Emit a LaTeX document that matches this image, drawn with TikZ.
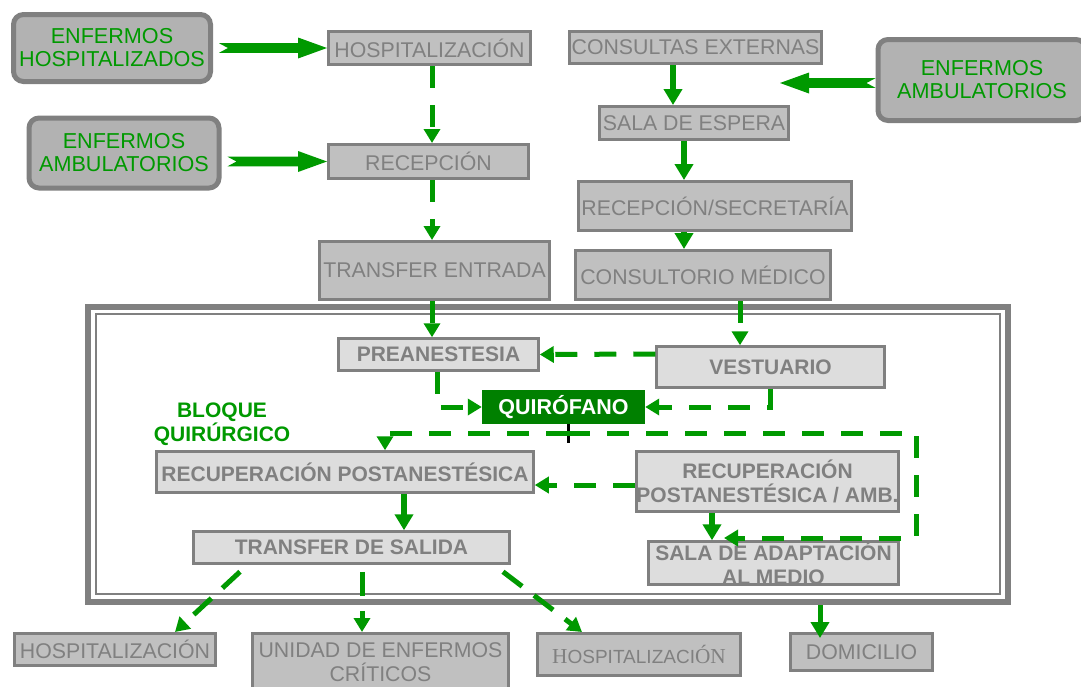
\documentclass[tikz,border=0pt]{standalone}
\usepackage{fontspec}
\setmainfont{Liberation Sans}
\newfontfamily\serifface{Liberation Serif}
\usetikzlibrary{arrows.meta,calc}

\definecolor{flowgreen}{RGB}{0,153,0}
\definecolor{orgreen}{RGB}{0,128,0}
\definecolor{boxgray}{RGB}{192,192,192}
\definecolor{edgegray}{RGB}{128,128,128}
\definecolor{lightbox}{RGB}{221,221,221}
\definecolor{patientfill}{RGB}{178,178,178}

% broad arrow with a notched tail, horizontal, from #1 to #2
\newcommand{\fatarrow}[2]{%
  \fill[flowgreen] let \p1=#1, \p2=#2, \n1={(\x2>\x1) ? 1 : -1} in
    (\x1,\y1+4.8pt) -- (\x2-\n1*29pt,\y1+4.8pt) -- (\x2-\n1*29pt,\y1+10.5pt)
    -- (\x2,\y1) -- (\x2-\n1*29pt,\y1-10.5pt) -- (\x2-\n1*29pt,\y1-4.8pt)
    -- (\x1,\y1-4.8pt) -- (\x1+\n1*9pt,\y1) -- cycle;}

\tikzset{
  topbox/.style={draw=edgegray, line width=3pt, fill=boxgray, text=edgegray,
    inner sep=0pt, align=center, font=\fontsize{21.3}{24}\selectfont},
  innerbox/.style={draw=edgegray, line width=2.5pt, fill=lightbox, text=edgegray,
    inner sep=0pt, align=center, font=\bfseries\fontsize{21}{24}\selectfont},
  patient/.style={draw=edgegray, line width=5pt, fill=patientfill, rounded corners=10pt,
    text=flowgreen, align=center, inner sep=0pt, font=\fontsize{21.6}{23}\selectfont},
  theatre/.style={fill=orgreen, text=white, inner sep=0pt,
    font=\bfseries\fontsize{21.5}{24}\selectfont},
  flowdash/.style={draw=flowgreen, line width=5pt, dash pattern=on 22pt off 17pt,
    -{Triangle[length=14pt,width=16pt]}},
  flowsolid/.style={draw=flowgreen, line width=5.5pt, -{Triangle[length=16pt,width=18pt]}},
  framebar/.style={draw=edgegray, inner sep=0pt},
}

\begin{document}
\begin{tikzpicture}[x=1pt,y=-1pt]
\useasboundingbox (0,0) rectangle (1081,686);
\fill[white] (0,0) rectangle (1081,686);

% surgical block frame
\node[framebar, line width=6.5pt, minimum width=920, minimum height=295] (frame) at (548,454.5) {};
\node[framebar, line width=2pt, minimum width=904, minimum height=280] (frameIn) at (548,454) {};

% patient sources
\node[patient, minimum width=197, minimum height=67] (enfH) at (112,48) {ENFERMOS\\HOSPITALIZADOS};
\node[patient, minimum width=190, minimum height=70] (enfAL) at (124,153) {ENFERMOS\\AMBULATORIOS};
\node[patient, minimum width=208, minimum height=81] (enfAR) at (982,80) {ENFERMOS\\AMBULATORIOS};

% admission side
\node[topbox, minimum width=202, minimum height=33] (hospT) at (429.5,48) {HOSPITALIZACIÓN};
\node[topbox, minimum width=200, minimum height=34] (recep) at (428.5,161.5) {RECEPCIÓN};
\node[topbox, minimum width=230, minimum height=58] (transE) at (434.5,270.5) {TRANSFER ENTRADA};

% outpatient side
\node[topbox, minimum width=252, minimum height=32] (consExt) at (695.5,47.5) {CONSULTAS EXTERNAS};
\node[topbox, minimum width=189, minimum height=33] (salaEsp) at (694,123) {SALA DE ESPERA};
\node[topbox, minimum width=273, minimum height=49] (recSec) at (715,206) {RECEPCIÓN/SECRETARÍA};
\node[topbox, minimum width=255, minimum height=49] (consMed) at (703,275) {CONSULTORIO MÉDICO};

% inside the surgical block
\node[innerbox, minimum width=200, minimum height=32] (pre) at (438.5,354.5) {PREANESTESIA};
\node[innerbox, minimum width=228, minimum height=41] (vest) at (770.5,367) {VESTUARIO};
\node[theatre, minimum width=163, minimum height=34] (quir) at (563.5,407) {QUIRÓFANO};
\node[innerbox, minimum width=377, minimum height=41] (rpa) at (345,472) {RECUPERACIÓN POSTANESTÉSICA};
\node[innerbox, minimum width=262, minimum height=60] (rpaAmb) at (767.5,481.5) {RECUPERACIÓN\\POSTANESTÉSICA / AMB.};
\node[innerbox, minimum width=250, minimum height=43] (salaAd) at (773.5,563) {SALA DE ADAPTACIÓN\\AL MEDIO};
\node[innerbox, minimum width=316, minimum height=32] (transS) at (351.5,547.5) {TRANSFER DE SALIDA};
\node[text=flowgreen, align=center, inner sep=0pt, font=\bfseries\fontsize{21}{24}\selectfont] (bloque) at (222,424) {BLOQUE\\QUIRÚRGICO};

% destinations
\node[topbox, minimum width=201, minimum height=32] (hospB1) at (115,649.5) {HOSPITALIZACIÓN};
\node[topbox, minimum width=256, minimum height=57] (uci) at (380.5,662) {UNIDAD DE ENFERMOS\\CRÍTICOS};
\node[topbox, minimum width=203, minimum height=42] (hospB2) at (639,654.5) {{\serifface H}{\fontsize{19}{22}\selectfont OSPITALIZACI}{\serifface ÓN}};
\node[topbox, minimum width=142, minimum height=37] (domic) at (861.5,652) {DOMICILIO};

% entry arrows
\fatarrow{($(enfH.east)+(6,0)$)}{(hospT.west)}
\fatarrow{($(enfAL.east |- recep.west)+(6,0)$)}{(recep.west)}
\coordinate (ambTip) at (780,83);
\fatarrow{($(enfAR.west)+(0,3)$)}{(ambTip)}

% admission flow
\draw[flowdash] ([xshift=2.5pt]hospT.south) -- ([xshift=3.5pt]recep.north);
\draw[flowdash] ([xshift=3.5pt]recep.south) -- ([xshift=-2.5pt]transE.north);
\draw[flowdash] ([xshift=-2.5pt]transE.south) -- ([xshift=-6.5pt]pre.north);

% outpatient flow
\draw[flowsolid] ([xshift=-22.5pt]consExt.south) -- ([xshift=-21pt]salaEsp.north);
\draw[flowsolid] ([xshift=-10pt]salaEsp.south) -- ([xshift=-31pt]recSec.north);
\draw[flowsolid] ([xshift=-31pt]recSec.south) -- ([xshift=-19pt]consMed.north);
\draw[flowdash] ([xshift=37pt]consMed.south) -- ([xshift=-30.5pt]vest.north);

% into the operating room
\draw[flowdash] ([yshift=13pt]vest.west) -- (pre.east);
\draw[flowdash] ([xshift=-1.5pt]pre.south) |- (quir.west);
\draw[flowdash] (vest.south) |- (quir.east);
\draw[black, line width=3pt] ([xshift=4.5pt]quir.south) -- ++(0,19);

% out of the operating room
\coordinate (split) at (568,433);
\coordinate (loopSE) at (916,538);
\draw[flowdash] (split) -| ([xshift=40pt]rpa.north);
\draw[flowdash] (split) -| (loopSE) -- ([xshift=-49.5pt]salaAd.north |- loopSE);
\draw[flowdash] ([yshift=-3.5pt]rpaAmb.west) -- ([yshift=-13pt]rpa.east);
\draw[flowsolid] ([xshift=-55.5pt]rpaAmb.south) -- ([xshift=-61.5pt]salaAd.north);
\draw[flowsolid] ([xshift=59pt]rpa.south) -- ([xshift=52.5pt]transS.north);

% discharge
\draw[flowdash, dash pattern=on 24pt off 15pt] ([xshift=-111.5pt,yshift=-7pt]transS.south) -- ([xshift=60pt]hospB1.north);
\draw[flowdash, dash pattern=on 24pt off 15pt] ([xshift=10.5pt,yshift=-7pt]transS.south) -- ([xshift=-18.5pt]uci.north);
\draw[flowdash, dash pattern=on 24pt off 15pt] ([xshift=151.5pt,yshift=-7pt]transS.south) -- ([xshift=-57pt]hospB2.north);
\draw[flowsolid, line width=5pt] ([xshift=272pt]frame.south) -- ([xshift=-41.5pt,yshift=-6pt]domic.north);
\end{tikzpicture}
\end{document}
